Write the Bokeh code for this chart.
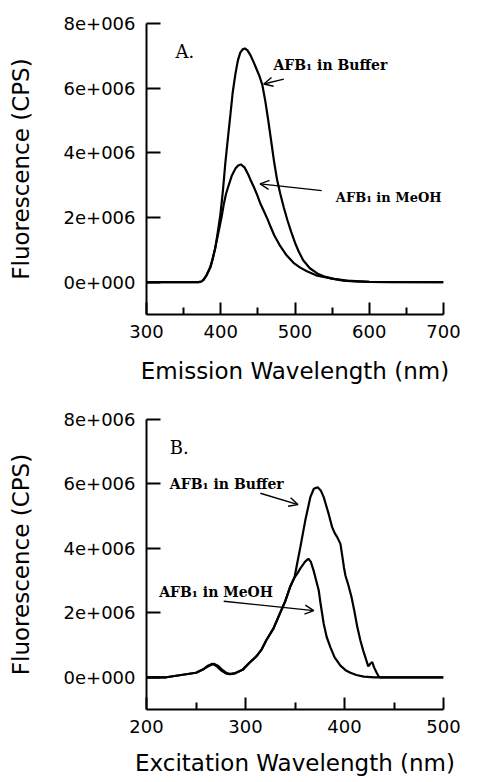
from bokeh.plotting import figure
from bokeh.layouts import column
from bokeh.models import Range1d, FixedTicker, Label, Arrow, OpenHead
from bokeh.embed import file_html
from bokeh.resources import INLINE

MEGA = 1e6

# ---------------- Panel A: emission spectra ----------------
em_nm_buffer = [300, 370, 374, 377, 381, 386, 389, 392.7, 396, 399.5, 403, 406, 409.5, 413, 416,
                419.6, 423, 426.3, 429.5, 432.5, 436, 440, 444, 448, 452, 456, 460, 464, 468,
                472, 476, 480, 485, 490, 495, 500, 505, 511, 520, 530, 540, 552, 565, 580, 600,
                630, 700]
em_buffer_m = [0, 0, 0.02, 0.08, 0.22, 0.48, 0.72, 1.06, 1.55, 2.09, 2.85, 3.64, 4.42, 5.18, 5.85,
               6.42, 6.85, 7.1, 7.2, 7.23, 7.17, 7.02, 6.82, 6.6, 6.38, 6.1, 5.6, 5.0, 4.35,
               3.7, 3.15, 2.75, 2.3, 1.9, 1.55, 1.22, 0.95, 0.68, 0.43, 0.27, 0.17, 0.1, 0.05,
               0.025, 0.01, 0, 0]

em_nm_meoh = [300, 370, 374, 377, 381, 386, 389, 392, 397, 401, 404, 407, 410, 415, 420, 423.5,
              427, 432, 437, 440, 445, 449, 453, 458, 463, 467, 472, 480, 488, 498, 507, 516,
              530, 547, 570, 600, 700]
em_meoh_m = [0, 0, 0.02, 0.08, 0.22, 0.45, 0.7, 1.0, 1.55, 2.0, 2.4, 2.72, 2.95, 3.3, 3.52, 3.61,
             3.64, 3.55, 3.33, 3.17, 2.92, 2.7, 2.45, 2.2, 1.95, 1.72, 1.45, 1.12, 0.85, 0.6,
             0.45, 0.34, 0.2, 0.12, 0.05, 0.01, 0]

# ---------------- Panel B: excitation spectra ----------------
ex_nm_buffer = [200, 220, 235, 250, 258, 263, 268, 272, 277, 281, 285, 290, 297, 304, 311, 316,
                321, 328, 335, 340, 345, 349.6, 352, 355.4, 360.4, 365.5, 369, 372.9, 376, 379,
                384, 387.5, 390, 392.6, 395.9, 397.6, 399.5, 401, 404, 407, 410, 413, 416, 419,
                421.5, 424, 426, 428, 430, 432.5, 435, 500]
ex_buffer_m = [0, 0, 0.07, 0.14, 0.26, 0.35, 0.42, 0.36, 0.22, 0.13, 0.1, 0.13, 0.23, 0.45, 0.65,
               0.85, 1.15, 1.5, 2.0, 2.35, 2.8, 3.11, 3.5, 4.04, 4.87, 5.59, 5.85, 5.9, 5.8, 5.59,
               5.07, 4.66, 4.48, 4.35, 4.14, 3.8, 3.4, 3.15, 2.85, 2.5, 2.05, 1.55, 1.15, 0.82,
               0.58, 0.34, 0.42, 0.47, 0.3, 0.14, 0, 0]

ex_nm_meoh = [200, 220, 235, 250, 258, 262, 266.5, 271, 276, 280, 284, 290, 297, 304, 311, 316,
              321, 328, 335, 340, 345, 349.6, 352, 355.4, 357, 360, 363.5, 366, 368.8, 371, 374,
              376, 379, 382, 385.8, 390, 395.9, 401, 406, 412, 419.5, 430, 500]
ex_meoh_m = [0, 0, 0.07, 0.14, 0.26, 0.36, 0.42, 0.34, 0.2, 0.12, 0.1, 0.13, 0.23, 0.45, 0.65,
             0.85, 1.15, 1.5, 2.0, 2.35, 2.8, 3.1, 3.2, 3.38, 3.45, 3.58, 3.68, 3.58, 3.31, 3.05,
             2.69, 2.25, 1.66, 1.25, 0.93, 0.62, 0.36, 0.22, 0.14, 0.07, 0.02, 0, 0]

# ---------------- ticks and labels ----------------
a_x_ticks = [300, 400, 500, 600, 700]
a_x_minor = [350, 450, 550, 650]
b_x_ticks = [200, 300, 400, 500]
b_x_minor = [250, 350, 450]
y_ticks = [0, 2000000, 4000000, 6000000, 8000000]
y_tick_labels = ["0e+000", "2e+006", "4e+006", "6e+006", "8e+006"]

y_title = "Fluorescence (CPS)"
a_x_title = "Emission Wavelength (nm)"
b_x_title = "Excitation Wavelength (nm)"
buffer_text = "AFB\u2081 in Buffer"
meoh_text = "AFB\u2081 in MeOH"

SANS = "DejaVu Sans"
SERIF = "DejaVu Serif"


def make_fig(xr, xticks, xminor, height, top, bottom, title_standoff):
    p = figure(width=477, height=height, x_range=Range1d(*xr), y_range=Range1d(-1e6, 8e6),
               output_backend="svg", toolbar_location=None,
               min_border_left=146, min_border_right=34, min_border_top=top,
               min_border_bottom=bottom)
    p.outline_line_color = None
    p.grid.visible = False
    p.background_fill_color = "white"
    p.border_fill_color = "white"

    xa = p.xaxis[0]
    xa.ticker = FixedTicker(ticks=xticks, minor_ticks=xminor)
    ya = p.yaxis[0]
    ya.ticker = FixedTicker(ticks=y_ticks, minor_ticks=[])
    ya.major_label_overrides = {t: s for t, s in zip(y_ticks, y_tick_labels)}

    for ax in (xa, ya):
        ax.axis_line_width = 2
        ax.axis_line_color = "black"
        ax.major_tick_out = 0
        ax.minor_tick_out = 0
        ax.major_tick_line_width = 2
        ax.minor_tick_line_width = 2
        ax.major_tick_line_color = "black"
        ax.minor_tick_line_color = "black"
        ax.major_label_text_font = SANS
        ax.major_label_text_font_size = "18px"
        ax.major_label_text_color = "black"
        ax.axis_label_text_font = SANS
        ax.axis_label_text_font_size = "23px"
        ax.axis_label_text_font_style = "normal"
        ax.axis_label_text_color = "black"
    xa.major_tick_in = 12
    xa.minor_tick_in = 7
    xa.major_label_standoff = 10
    xa.axis_label_standoff = title_standoff
    ya.major_tick_in = 14
    ya.minor_tick_in = 0
    ya.major_label_standoff = 11
    ya.axis_label_standoff = 27
    ya.axis_label = y_title
    return p


def add_arrow(p, xs, ys, xe, ye):
    p.add_layout(Arrow(end=OpenHead(size=9, line_width=1.4, line_color="black"),
                       x_start=xs, y_start=ys, x_end=xe, y_end=ye,
                       line_width=1.4, line_color="black"))


def add_text(p, x, y, text, font, size, style="normal"):
    p.add_layout(Label(x=x, y=y, text=text, text_font=font, text_font_size=size,
                       text_font_style=style, text_baseline="alphabetic",
                       text_align="left", text_color="black"))


# Panel A
pa = make_fig((300, 700), a_x_ticks, a_x_minor, 390, 23, 76, 17)
pa.xaxis[0].axis_label = a_x_title
pa.line(em_nm_buffer, [v * MEGA for v in em_buffer_m], line_width=2.2, color="black")
pa.line(em_nm_meoh, [v * MEGA for v in em_meoh_m], line_width=2.2, color="black")
add_text(pa, 339, 7.14e6, "A.", SERIF, "18px")
add_text(pa, 471, 6.72e6, buffer_text, SERIF, "14px", "bold")
add_arrow(pa, 485, 6.28e6, 458, 6.13e6)
add_text(pa, 555, 2.63e6, meoh_text, SERIF, "13px", "bold")
add_arrow(pa, 536, 2.83e6, 453, 3.04e6)

# Panel B
pb = make_fig((200, 500), b_x_ticks, b_x_minor, 392, 29, 73, 14)
pb.xaxis[0].axis_label = b_x_title
pb.line(ex_nm_buffer, [v * MEGA for v in ex_buffer_m], line_width=2.2, color="black")
pb.line(ex_nm_meoh, [v * MEGA for v in ex_meoh_m], line_width=2.2, color="black")
add_text(pb, 223.6, 7.14e6, "B.", SERIF, "18px")
add_text(pb, 223.6, 6.0e6, buffer_text, SERIF, "14px", "bold")
add_arrow(pb, 315, 5.71e6, 353, 5.36e6)
add_text(pb, 212.8, 2.64e6, meoh_text, SERIF, "14px", "bold")
add_arrow(pb, 278, 2.36e6, 369, 2.07e6)

layout = column(pa, pb)
open("out.html", "w").write(file_html(layout, INLINE))
